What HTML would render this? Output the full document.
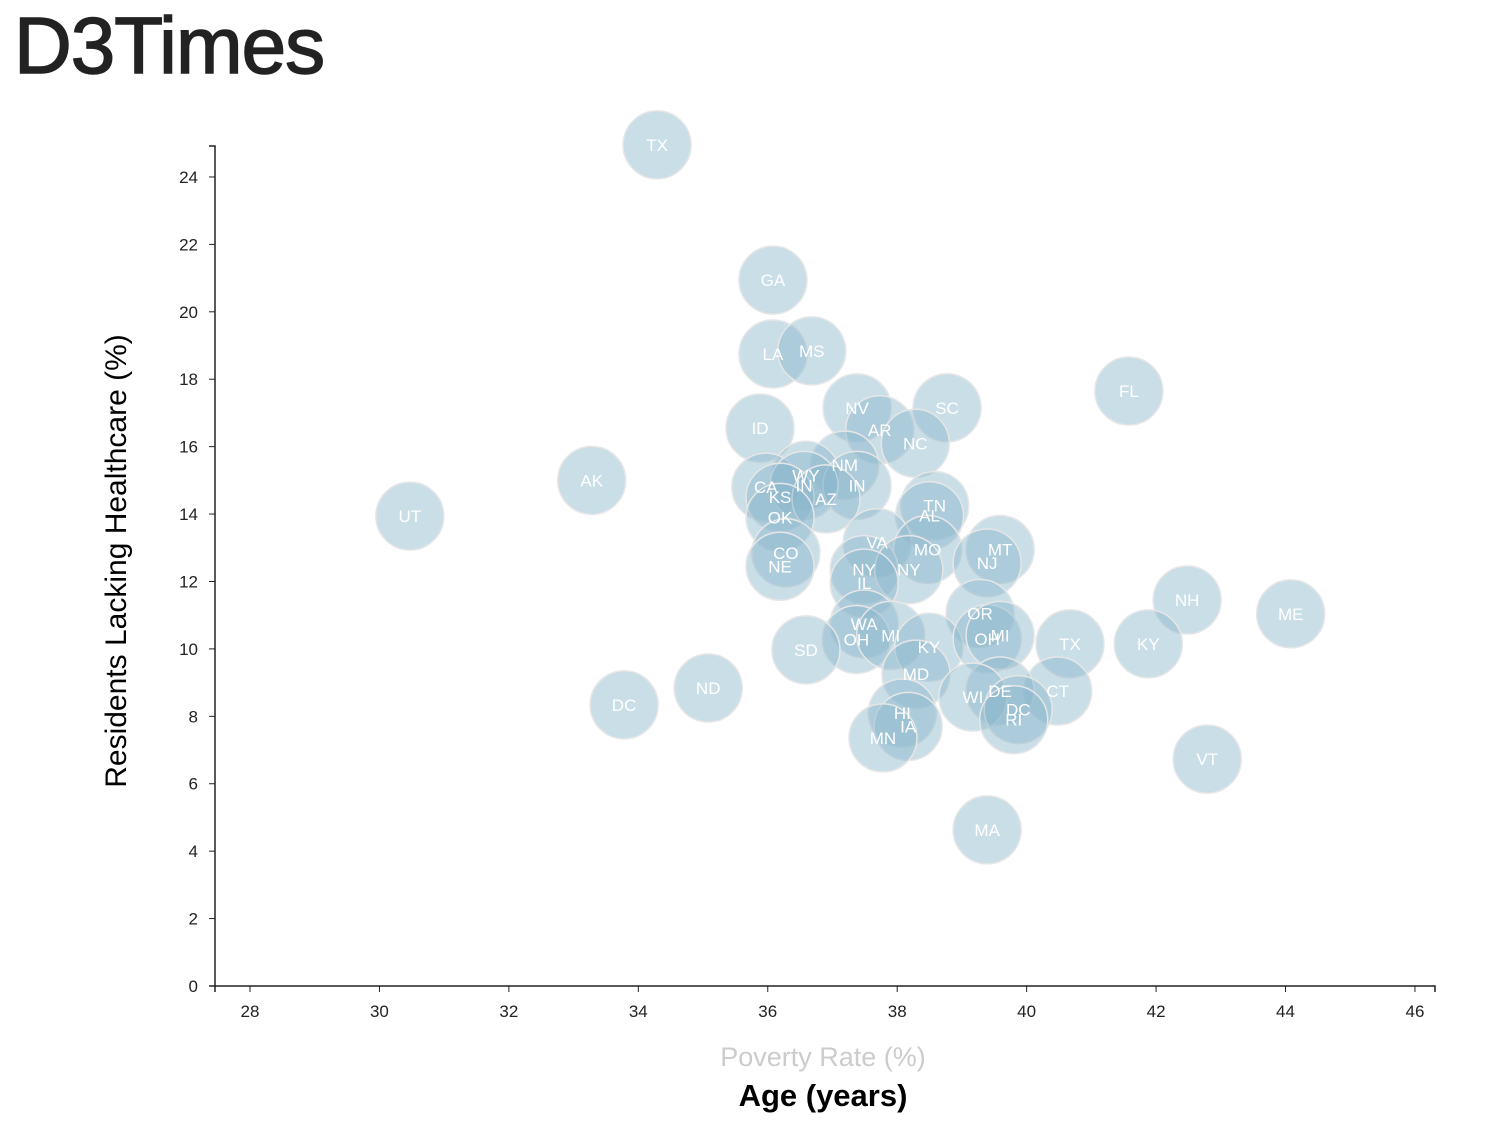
<!DOCTYPE html>
<html><head><meta charset="utf-8">
<style>
body{margin:0;background:#fff;width:1500px;height:1136px;overflow:hidden;font-family:"Liberation Sans",sans-serif}
h1{position:absolute;left:14px;top:0px;margin:0;font-size:80px;font-weight:400;color:#222;letter-spacing:-1px;-webkit-text-stroke:1.5px #222}
svg{position:absolute;left:0;top:0}
.tick text{font-size:17px;fill:#222}
</style></head><body>
<h1>D3Times</h1>
<svg id="chart" width="1500" height="1136"></svg>
<script>
const states=["TX","GA","LA","MS","FL","SC","NV","ID","AR","NC","AK","UT","NM","WY","CA","IN","IN","KS","AZ","OK","TN","AL","VA","MO","MT","NJ","CO","NE","NY","NY","IL","OR","NH","ME","WA","OH","MI","KY","OH","MI","TX","KY","SD","MD","ND","CT","DE","WI","DC","RI","HI","IA","MN","DC","VT","MA"];
const ages=[34.29,36.08,36.08,36.68,41.58,38.77,37.38,35.88,37.73,38.28,33.28,30.47,37.19,36.59,35.97,37.38,36.56,36.19,36.9,36.19,38.58,38.5,37.69,38.47,39.59,39.39,36.28,36.19,37.49,38.18,37.49,39.28,42.48,44.08,37.49,37.37,37.9,38.49,39.39,39.59,40.67,41.88,36.59,38.29,35.08,40.48,39.59,39.17,39.87,39.8,38.08,38.17,37.78,33.78,42.79,39.39];
const healthcare=[24.95,20.94,18.75,18.84,17.65,17.15,17.15,16.55,16.5,16.1,15.0,13.94,15.45,15.15,14.8,14.85,14.85,14.5,14.45,13.9,14.25,13.95,13.15,12.95,12.95,12.55,12.85,12.45,12.35,12.35,11.95,11.05,11.45,11.04,10.74,10.28,10.4,10.05,10.3,10.4,10.15,10.15,9.97,9.25,8.84,8.75,8.75,8.57,8.2,7.9,8.1,7.7,7.36,8.34,6.73,4.63];
const xTicks=[28,30,32,34,36,38,40,42,44,46];
const yTicks=[0,2,4,6,8,10,12,14,16,18,20,22,24];
const NS="http://www.w3.org/2000/svg";
const svg=document.getElementById('chart');
const X=v=>250+(v-28)*64.72;
const Y=v=>986-v*33.71;
function mk(t,a,p){const e=document.createElementNS(NS,t);for(const k in a)e.setAttribute(k,a[k]);(p||svg).appendChild(e);return e;}
const xa=mk('g',{});


mk('path',{d:'M215,992V986H1435V992',fill:'none',stroke:'#222','stroke-width':1.5},xa);
xTicks.forEach(t=>{const g=mk('g',{class:'tick'},xa);


mk('line',{x1:X(t),x2:X(t),y1:986,y2:992,stroke:'#222'},g);
const tx=mk('text',{x:X(t),y:1017,'text-anchor':'middle'},g);tx.textContent=t;});
const ya=mk('g',{});


mk('path',{d:'M209,146H215V986H209',fill:'none',stroke:'#222','stroke-width':1.5},ya);
yTicks.forEach(t=>{const g=mk('g',{class:'tick'},ya);


mk('line',{x1:209,x2:215,y1:Y(t),y2:Y(t),stroke:'#222'},g);
const tx=mk('text',{x:198,y:Y(t)+6,'text-anchor':'end'},g);tx.textContent=t;});
const cg=mk('g',{});


states.forEach((s,i)=>{const c=mk('circle',{cx:X(ages[i]),cy:Y(healthcare[i]),r:34,fill:'#89b6cb','fill-opacity':0.45,stroke:'#e6e6e6','stroke-width':1.5},cg);

});
const tg=mk('g',{});


states.forEach((s,i)=>{const t=mk('text',{x:X(ages[i]),y:Y(healthcare[i])+6,'text-anchor':'middle','font-size':17,fill:'#fff'},tg);


t.textContent=s;});
const yl=mk('text',{transform:'translate(126,561) rotate(-90)','text-anchor':'middle','font-size':30,fill:'#000'});


yl.textContent='Residents Lacking Healthcare (%)';
const xl1=mk('text',{x:823,y:1066,'text-anchor':'middle','font-size':27,fill:'#ccc'});


xl1.textContent='Poverty Rate (%)';
const xl2=mk('text',{x:823,y:1106,'text-anchor':'middle','font-size':31,'font-weight':'bold',fill:'#000'});


xl2.textContent='Age (years)';
</script>
</body></html>
